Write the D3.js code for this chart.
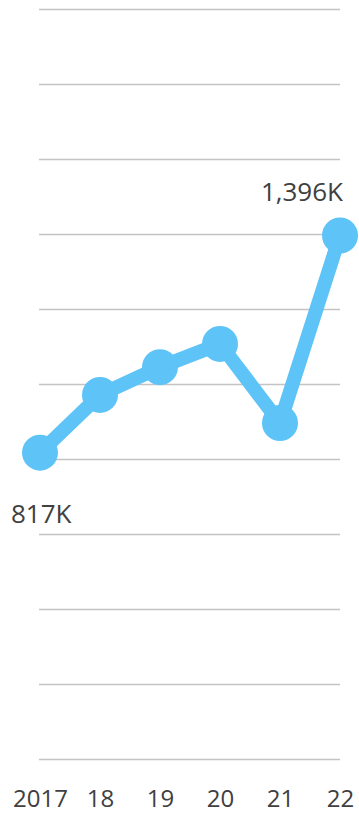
<!DOCTYPE html>
<html>
<head>
<meta charset="utf-8">
<script src="https://cdn.jsdelivr.net/npm/d3@7"></script>
<style>
  html, body { margin: 0; padding: 0; background: #ffffff; }
  svg { display: block; }
  text { font-family: "Open Sans", "Noto Sans", sans-serif; fill: #404040; }
</style>
</head>
<body>
<svg id="chart" width="359" height="815"></svg>
<script>
// Annual totals, in thousands
const years = ["2017", "18", "19", "20", "21", "22"];
const values = [817, 971, 1045, 1107, 896, 1396];
// Horizontal gridlines (thousands)
const gridValues = [0, 200, 400, 600, 800, 1000, 1200, 1400, 1600, 1800, 2000];

const svg = d3.select("#chart");

const x = d3.scalePoint().domain(years).range([40, 340]);
const y = d3.scaleLinear().domain([0, 2000]).range([759, 9]);

const fmt = v => d3.format(",")(v) + "K";

// Gridlines
svg.append("g")
  .attr("transform", "translate(39,0)")
  .call(d3.axisLeft(y).tickValues(gridValues).tickSize(-(340 - 39)).tickFormat(""))
  .call(g => g.select(".domain").remove())
  .call(g => g.selectAll(".tick line").attr("stroke", "#c4c4c4").attr("stroke-width", 1.5));

// Year axis labels
svg.append("g")
  .attr("transform", "translate(0,770)")
  .call(d3.axisBottom(x).tickSize(0).tickPadding(0))
  .call(g => g.select(".domain").remove())
  .call(g => g.selectAll("text")
    .attr("dy", "0")
    .attr("y", 37)
    .style("font-size", "24px")
    .attr("fill", "#404040"));

const color = "#5ec3f7";

// Line
const line = d3.line().x((d, i) => x(years[i])).y(d => y(d));
svg.append("path")
  .datum(values)
  .attr("d", line)
  .attr("fill", "none")
  .attr("stroke", color)
  .attr("stroke-width", 14)
  .attr("stroke-linejoin", "round");

// Markers
svg.append("g").selectAll("circle")
  .data(values)
  .join("circle")
  .attr("cx", (d, i) => x(years[i]))
  .attr("cy", d => y(d))
  .attr("r", 18)
  .attr("fill", color);

// Value labels for the first and last year
const last = values.length - 1;
svg.append("text")
  .attr("x", 11)
  .attr("y", y(values[0]) + 70)
  .style("font-size", "26px")
  .text(fmt(values[0]));

svg.append("text")
  .attr("x", 343)
  .attr("y", y(values[last]) - 35)
  .attr("text-anchor", "end")
  .style("font-size", "26px")
  .text(fmt(values[last]));
</script>
</body>
</html>
